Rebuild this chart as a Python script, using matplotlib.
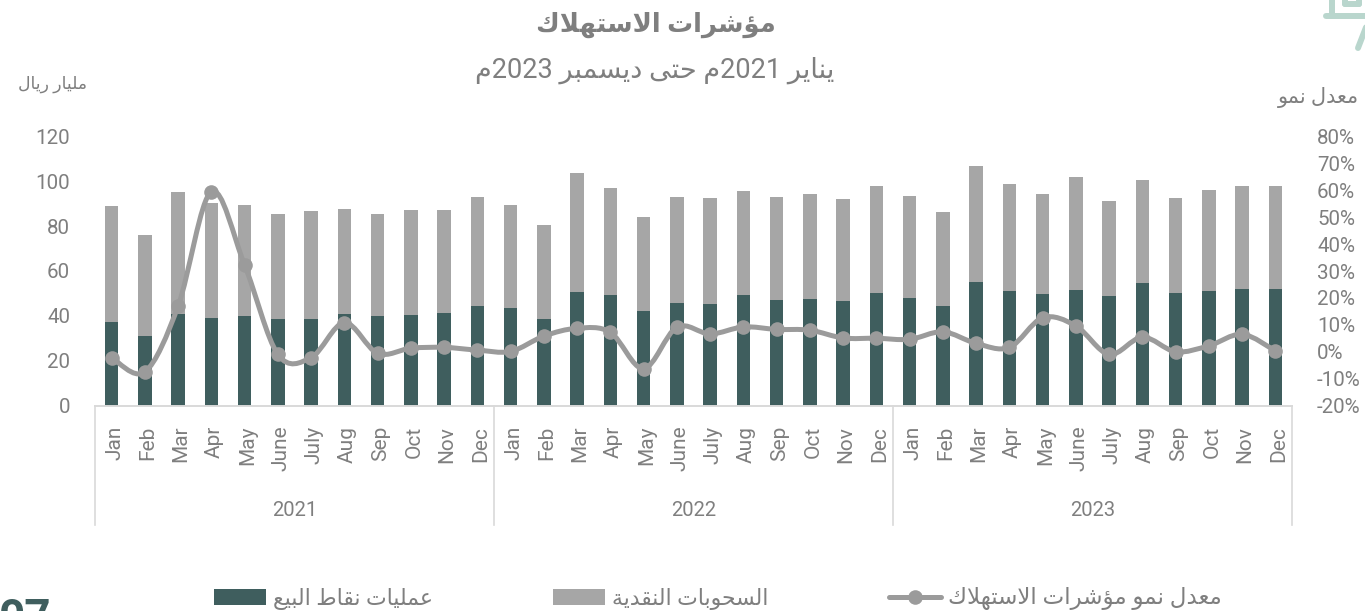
import unicodedata
import matplotlib
matplotlib.use("Agg")
import matplotlib.pyplot as plt
from matplotlib.lines import Line2D
from matplotlib.patches import Patch, PathPatch
from matplotlib.path import Path
from matplotlib.transforms import blended_transform_factory, ScaledTranslation

months = ["Jan", "Feb", "Mar", "Apr", "May", "June", "July", "Aug", "Sep", "Oct", "Nov", "Dec"] * 3
years = ["2021", "2022", "2023"]
pos_sales = [37.1, 30.9, 40.7, 39.1, 40.0, 38.5, 38.5, 40.7, 39.8, 40.3, 41.2, 44.3,
             43.4, 38.5, 50.7, 49.3, 42.0, 45.7, 45.4, 49.4, 47.0, 47.5, 46.6, 50.1,
             47.9, 44.3, 55.0, 51.3, 49.7, 51.5, 49.0, 54.5, 50.1, 50.9, 52.1, 52.1]
bar_totals = [89.0, 75.9, 95.4, 90.3, 89.6, 85.3, 86.9, 87.7, 85.6, 87.4, 87.1, 93.0,
              89.3, 80.5, 103.7, 96.9, 84.1, 93.0, 92.6, 95.8, 92.9, 94.3, 92.1, 97.9,
              93.3, 86.3, 106.8, 98.7, 94.5, 101.8, 91.4, 100.7, 92.4, 96.3, 97.8, 97.8]
growth = [-2.2, -7.5, 17.0, 59.5, 32.2, -1.0, -2.2, 10.8, -0.6, 1.3, 1.6, 0.6,
          0.1, 5.8, 8.7, 7.2, -6.3, 9.1, 6.6, 9.2, 8.3, 8.0, 5.1, 5.0,
          4.6, 7.4, 3.1, 1.6, 12.6, 9.6, -1.0, 5.4, 0.0, 2.2, 6.5, 0.3]
cash = [t - p for t, p in zip(bar_totals, pos_sales)]

title = "مؤشرات الاستهلاك"
subtitle = "يناير 2021م حتى ديسمبر 2023م"
left_unit = "مليار ريال"
right_unit = "معدل نمو"
leg_pos = "عمليات نقاط البيع"
leg_cash = "السحوبات النقدية"
leg_growth = "معدل نمو مؤشرات الاستهلاك"

# Arabic shaping: matplotlib has no shaper, so map to presentation forms
FORMS, LIGS = {}, {}
for cp in range(0xFE70, 0xFEFD):
    d = unicodedata.decomposition(chr(cp)).split()
    if len(d) == 2:
        FORMS.setdefault(chr(int(d[1], 16)), {})[d[0]] = chr(cp)
    elif len(d) == 3 and d[1] == "0644":
        LIGS.setdefault(chr(int(d[2], 16)), {})[d[0]] = chr(cp)

def shape(s):
    def joins_next(c):
        return c in FORMS and "<initial>" in FORMS[c]
    out, i = [], 0
    while i < len(s):
        c = s[i]
        if c not in FORMS:
            out.append(c); i += 1; continue
        prev = s[i - 1] if i else ""
        pj = joins_next(prev)
        nxt = s[i + 1] if i + 1 < len(s) else ""
        if c == "ل" and nxt in LIGS:
            out.append(LIGS[nxt]["<final>" if pj else "<isolated>"]); i += 2; continue
        nj = joins_next(c) and nxt in FORMS
        key = ("<medial>" if nj else "<final>") if pj else ("<initial>" if nj else "<isolated>")
        out.append(FORMS[c].get(key, FORMS[c].get("<isolated>", c))); i += 1
    # visual order: reverse, keeping digit runs left-to-right
    runs, cur = [], ""
    for ch in out:
        if ch.isdigit():
            cur += ch
        else:
            if cur:
                runs.append(cur); cur = ""
            runs.append(ch)
    if cur:
        runs.append(cur)
    return "".join(reversed(runs))

W, H = 1365, 611
GREY = "#7f7f7f"
TEAL = "#3f5e5e"
BAR_GREY = "#a6a6a6"
LINE_GREY = "#9b9b9b"
AXIS = "#d9d9d9"
FONT = ["Roboto", "DejaVu Sans"]
plt.rcParams["font.family"] = FONT

fig = plt.figure(figsize=(W / 100, H / 100), dpi=100, facecolor="white")
def fx(px): return px / W
def fy(py): return 1 - py / H

ax = fig.add_axes([fx(95), fy(405.5), (1292 - 95) / W, 269 / H])
ax2 = ax.twinx()
x = list(range(len(months)))
ax.bar(x, pos_sales, width=0.4, color=TEAL, zorder=2)
ax.bar(x, cash, width=0.4, bottom=pos_sales, color=BAR_GREY, zorder=2)
ax.set_xlim(-0.5, 35.5)
ax.set_ylim(0, 120)
ax2.set_ylim(-20, 80)
ax.set_yticks(range(0, 121, 20))
ax2.set_yticks(range(-20, 81, 10))
ax2.set_yticklabels([f"{v}%" for v in range(-20, 81, 10)])
ax.set_xticks(x)
ax.set_xticklabels(months, rotation=90, va="top", ha="center", fontsize=15, color=GREY)
ax.tick_params(axis="x", length=0, pad=14.5)
ax.tick_params(axis="y", length=0, pad=18, labelsize=14.8, labelcolor=GREY)
ax2.tick_params(axis="y", length=0, pad=18, labelsize=14.8, labelcolor=GREY)
shift = ScaledTranslation(3 / 100, 0, fig.dpi_scale_trans)
for lab in ax.get_xticklabels():
    lab.set_transform(lab.get_transform() + shift)
for a in (ax, ax2):
    for s in ("top", "left", "right"):
        a.spines[s].set_visible(False)
    a.spines["bottom"].set_color(AXIS)
    a.spines["bottom"].set_linewidth(1.2)

# smoothed growth line (Catmull-Rom Bezier through the values)
verts, codes = [(x[0], growth[0])], [Path.MOVETO]
n = len(x)
for i in range(n - 1):
    p0 = (x[max(i - 1, 0)], growth[max(i - 1, 0)])
    p1 = (x[i], growth[i])
    p2 = (x[i + 1], growth[i + 1])
    p3 = (x[min(i + 2, n - 1)], growth[min(i + 2, n - 1)])
    verts += [(p1[0] + (p2[0] - p0[0]) / 6, p1[1] + (p2[1] - p0[1]) / 6),
              (p2[0] - (p3[0] - p1[0]) / 6, p2[1] - (p3[1] - p1[1]) / 6), p2]
    codes += [Path.CURVE4] * 3
ax2.add_patch(PathPatch(Path(verts, codes), fill=False, edgecolor=LINE_GREY, lw=3.6, capstyle="round", joinstyle="round"))
ax2.plot(x, growth, ls="none", marker="o", ms=10.5, mfc=LINE_GREY, mec=LINE_GREY, mew=0)

# multi-level year axis
tr = blended_transform_factory(ax.transData, ax.transAxes)
for b in (-0.5, 11.5, 23.5, 35.5):
    ax.plot([b, b], [0, -(525 - 405.5) / 269], transform=tr, color=AXIS, lw=1.2, clip_on=False)
for i, yr in enumerate(years):
    ax.text(5.5 + 12 * i, -(510 - 405.5) / 269, yr, transform=tr, ha="center", va="center",
            fontsize=14.5, color=GREY)

fig.text(fx(656), fy(25), shape(title), ha="center", va="center", fontsize=18.6, fontweight="bold", color=GREY)
fig.text(fx(655), fy(70), shape(subtitle), ha="center", va="center", fontsize=19.5, color=GREY)
fig.text(fx(53), fy(84), shape(left_unit), ha="center", va="center", fontsize=12.4, color=GREY)
fig.text(fx(1318), fy(98), shape(right_unit), ha="center", va="center", fontsize=15, color=GREY)

handles = [Patch(facecolor=TEAL, edgecolor="none"), Patch(facecolor=BAR_GREY, edgecolor="none"),
           Line2D([], [], color=LINE_GREY, lw=3.6, marker="o", ms=10.5, mew=0, solid_capstyle="round")]
leg = fig.legend(handles, [shape(leg_pos), shape(leg_cash), shape(leg_growth)], ncol=3, frameon=False,
                 loc="lower left", bbox_to_anchor=(fx(214), fy(610.5)), borderaxespad=0, borderpad=0,
                 fontsize=15.8, labelcolor=GREY, handlelength=2.37, handleheight=0.73, handletextpad=0.3,
                 columnspacing=5.5, numpoints=1)
leg.get_texts()[2].set_fontsize(16.6)

# page number and corner emblem
fig.text(fx(-1), fy(597), "07", ha="left", va="top", fontsize=33, fontweight="bold", color=TEAL)
PALE = "#b9d6cd"
for xs, ys in [([1326, 1368], [16, 16]), ([1332, 1332], [-3, 16]), ([1358, 1370], [48, 17]),
               ([1345, 1345], [-3, 4]), ([1345, 1359], [4, 4]), ([1359, 1359], [4, -3])]:
    fig.add_artist(Line2D([fx(v) for v in xs], [fy(v) for v in ys], color=PALE, lw=4.3, solid_capstyle="round"))

fig.savefig("out.png", dpi=100, facecolor="white")
